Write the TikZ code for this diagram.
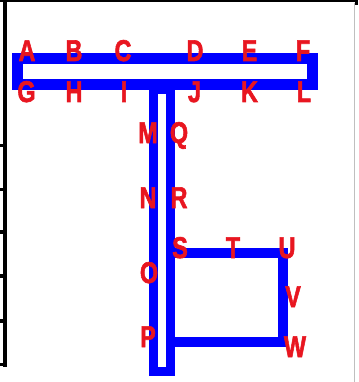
\documentclass[tikz,border=0pt]{standalone}
\usepackage{fontspec}
\setmainfont{Liberation Sans}[BoldFeatures={FakeBold=2.2}]
\usepackage{xcolor}
\usepackage{graphicx}
\definecolor{lblred}{RGB}{232,22,32}
\newcommand{\narrowtext}[1]{\scalebox{0.78}[1]{#1}}

\begin{document}
\begin{tikzpicture}[
  x=1pt, y=-1pt,
  wall/.style={draw=blue, line width=10pt},
  frameline/.style={draw=black, line width=3.5pt},
  letter/.style={text=lblred, font=\fontsize{30}{30}\selectfont\bfseries, inner sep=0pt, anchor=base}
]
\useasboundingbox (0,0) rectangle (358,382);

% cut-off table frame
\draw[frameline, line width=2pt] (0,1) -- (355,1);
\draw[frameline] (4.8,0) -- (4.8,367);
\foreach \y in {145.5,189.5,232,276,321,364.5}
  \draw[frameline] (0,\y) -- (7,\y);
\fill[black] (355,0) rectangle (358,5);
\draw[black!25, line width=1pt] (354.5,3) -- (354.5,382);

% blue walls
\draw[wall, line width=11pt] (17,58.5) rectangle (312,84.5);
\draw[wall, line width=9pt] (153.5,90) rectangle (170.5,371);
\draw[wall] (170.5,252.5) -- (283,252.5) -- (283,341.5) -- (170.5,341.5);

% top row
\node[letter] (A) at (27,61) {\narrowtext{A}};
\node[letter] (B) at (74,61) {\narrowtext{B}};
\node[letter] (C) at (123,61) {\narrowtext{C}};
\node[letter] (D) at (195,61) {\narrowtext{D}};
\node[letter] (E) at (249.5,61) {\narrowtext{E}};
\node[letter] (F) at (303,61) {\narrowtext{F}};
% second row
\node[letter] (G) at (26.5,102) {\narrowtext{G}};
\node[letter] (H) at (74,102) {\narrowtext{H}};
\node[letter] (I) at (124,102) {\narrowtext{I}};
\node[letter] (J) at (194.5,102) {\narrowtext{J}};
\node[letter] (K) at (249.5,102) {\narrowtext{K}};
\node[letter] (L) at (304,102) {\narrowtext{L}};
% stem
\node[letter] (M) at (148,143) {\narrowtext{M}};
\node[letter] (Q) at (179,143) {\narrowtext{Q}};
\node[letter] (N) at (148,208) {\narrowtext{N}};
\node[letter] (R) at (179,208) {\narrowtext{R}};
\node[letter] (O) at (149,283) {\narrowtext{O}};
\node[letter] (P) at (148,347) {\narrowtext{P}};
% square
\node[letter] (S) at (180,258) {\narrowtext{S}};
\node[letter] (T) at (233,258) {\narrowtext{T}};
\node[letter] (U) at (287,258) {\narrowtext{U}};
\node[letter] (V) at (293,307) {\narrowtext{V}};
\node[letter] (W) at (295,357) {\narrowtext{W}};
\end{tikzpicture}
\end{document}
